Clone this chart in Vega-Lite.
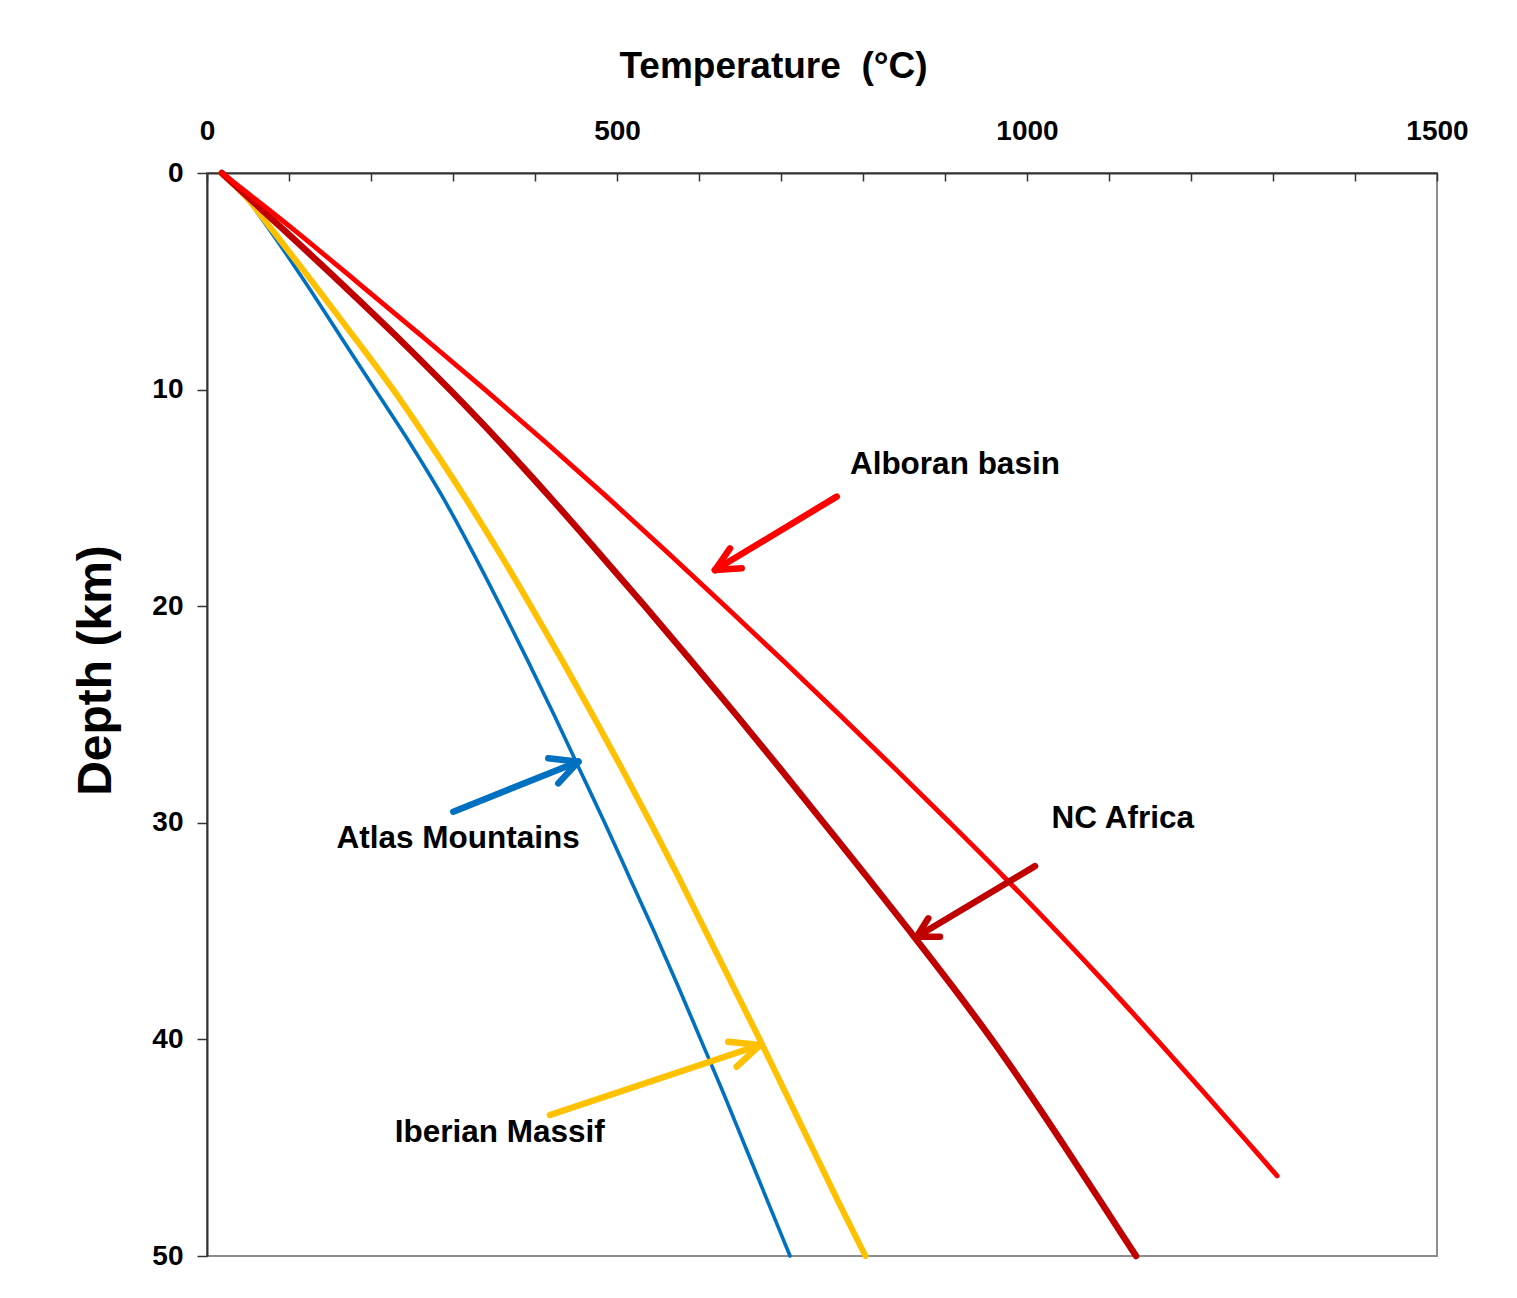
{
  "$schema": "https://vega.github.io/schema/vega-lite/v6.json",
  "width": 1230,
  "height": 1083,
  "autosize": {"type": "none"},
  "padding": {"left": 207, "top": 173, "right": 80, "bottom": 42},
  "background": "white",
  "config": {
    "view": {"stroke": "#8c8c8c", "strokeWidth": 2},
    "font": "Liberation Sans"
  },
  "datasets": {
    "curves": [
      {"series": "Alboran basin", "depth": 0, "T": 18},
      {"series": "Alboran basin", "depth": 2.5, "T": 102},
      {"series": "Alboran basin", "depth": 5, "T": 182},
      {"series": "Alboran basin", "depth": 7.5, "T": 261},
      {"series": "Alboran basin", "depth": 10, "T": 339},
      {"series": "Alboran basin", "depth": 12.5, "T": 415},
      {"series": "Alboran basin", "depth": 15, "T": 489},
      {"series": "Alboran basin", "depth": 17.5, "T": 561},
      {"series": "Alboran basin", "depth": 20, "T": 632},
      {"series": "Alboran basin", "depth": 22.5, "T": 702},
      {"series": "Alboran basin", "depth": 25, "T": 771},
      {"series": "Alboran basin", "depth": 27.5, "T": 839},
      {"series": "Alboran basin", "depth": 30, "T": 906},
      {"series": "Alboran basin", "depth": 32.5, "T": 972},
      {"series": "Alboran basin", "depth": 35, "T": 1036},
      {"series": "Alboran basin", "depth": 37.5, "T": 1098},
      {"series": "Alboran basin", "depth": 40, "T": 1158},
      {"series": "Alboran basin", "depth": 42.5, "T": 1217},
      {"series": "Alboran basin", "depth": 45, "T": 1275},
      {"series": "Alboran basin", "depth": 46.3, "T": 1305},
      {"series": "NC Africa", "depth": 0, "T": 18},
      {"series": "NC Africa", "depth": 2.5, "T": 90},
      {"series": "NC Africa", "depth": 5, "T": 161},
      {"series": "NC Africa", "depth": 7.5, "T": 230},
      {"series": "NC Africa", "depth": 10, "T": 296},
      {"series": "NC Africa", "depth": 12.5, "T": 359},
      {"series": "NC Africa", "depth": 15, "T": 419},
      {"series": "NC Africa", "depth": 17.5, "T": 477},
      {"series": "NC Africa", "depth": 20, "T": 534},
      {"series": "NC Africa", "depth": 22.5, "T": 590},
      {"series": "NC Africa", "depth": 25, "T": 645},
      {"series": "NC Africa", "depth": 27.5, "T": 699},
      {"series": "NC Africa", "depth": 30, "T": 752},
      {"series": "NC Africa", "depth": 32.5, "T": 805},
      {"series": "NC Africa", "depth": 35, "T": 857},
      {"series": "NC Africa", "depth": 37.5, "T": 908},
      {"series": "NC Africa", "depth": 40, "T": 957},
      {"series": "NC Africa", "depth": 42.5, "T": 1003},
      {"series": "NC Africa", "depth": 45, "T": 1047},
      {"series": "NC Africa", "depth": 47.5, "T": 1090},
      {"series": "NC Africa", "depth": 50, "T": 1133},
      {"series": "Iberian Massif", "depth": 0, "T": 18},
      {"series": "Iberian Massif", "depth": 1.25, "T": 51},
      {"series": "Iberian Massif", "depth": 2.5, "T": 77},
      {"series": "Iberian Massif", "depth": 5, "T": 128},
      {"series": "Iberian Massif", "depth": 7.5, "T": 178},
      {"series": "Iberian Massif", "depth": 10, "T": 227},
      {"series": "Iberian Massif", "depth": 12.5, "T": 272},
      {"series": "Iberian Massif", "depth": 15, "T": 315},
      {"series": "Iberian Massif", "depth": 17.5, "T": 356},
      {"series": "Iberian Massif", "depth": 20, "T": 395},
      {"series": "Iberian Massif", "depth": 22.5, "T": 433},
      {"series": "Iberian Massif", "depth": 25, "T": 470},
      {"series": "Iberian Massif", "depth": 27.5, "T": 506},
      {"series": "Iberian Massif", "depth": 30, "T": 541},
      {"series": "Iberian Massif", "depth": 32.5, "T": 575},
      {"series": "Iberian Massif", "depth": 35, "T": 608},
      {"series": "Iberian Massif", "depth": 37.5, "T": 641},
      {"series": "Iberian Massif", "depth": 40, "T": 674},
      {"series": "Iberian Massif", "depth": 42.5, "T": 706},
      {"series": "Iberian Massif", "depth": 45, "T": 738},
      {"series": "Iberian Massif", "depth": 47.5, "T": 770},
      {"series": "Iberian Massif", "depth": 50, "T": 803},
      {"series": "Atlas Mountains", "depth": 0, "T": 18},
      {"series": "Atlas Mountains", "depth": 1.25, "T": 50},
      {"series": "Atlas Mountains", "depth": 2.5, "T": 74},
      {"series": "Atlas Mountains", "depth": 5, "T": 119},
      {"series": "Atlas Mountains", "depth": 7.5, "T": 162},
      {"series": "Atlas Mountains", "depth": 10, "T": 205},
      {"series": "Atlas Mountains", "depth": 12.5, "T": 248},
      {"series": "Atlas Mountains", "depth": 15, "T": 288},
      {"series": "Atlas Mountains", "depth": 17.5, "T": 324},
      {"series": "Atlas Mountains", "depth": 20, "T": 358},
      {"series": "Atlas Mountains", "depth": 22.5, "T": 391},
      {"series": "Atlas Mountains", "depth": 25, "T": 423},
      {"series": "Atlas Mountains", "depth": 27.5, "T": 454},
      {"series": "Atlas Mountains", "depth": 30, "T": 485},
      {"series": "Atlas Mountains", "depth": 32.5, "T": 515},
      {"series": "Atlas Mountains", "depth": 35, "T": 545},
      {"series": "Atlas Mountains", "depth": 37.5, "T": 574},
      {"series": "Atlas Mountains", "depth": 40, "T": 602},
      {"series": "Atlas Mountains", "depth": 42.5, "T": 630},
      {"series": "Atlas Mountains", "depth": 45, "T": 657},
      {"series": "Atlas Mountains", "depth": 47.5, "T": 684},
      {"series": "Atlas Mountains", "depth": 50, "T": 711}
    ],
    "arrows": [
      {"series": "Alboran basin", "T": 768, "depth": 14.94, "T2": 619.5, "depth2": 18.33},
      {"series": "Alboran basin", "T": 619.5, "depth": 18.33, "T2": 637.8, "depth2": 17.33},
      {"series": "Alboran basin", "T": 619.5, "depth": 18.33, "T2": 652.1, "depth2": 18.25},
      {"series": "NC Africa", "T": 1009.8, "depth": 32.0, "T2": 865.5, "depth2": 35.26},
      {"series": "NC Africa", "T": 865.5, "depth": 35.26, "T2": 879.6, "depth2": 34.41},
      {"series": "NC Africa", "T": 865.5, "depth": 35.26, "T2": 893.9, "depth2": 35.26},
      {"series": "Atlas Mountains", "T": 300.4, "depth": 29.49, "T2": 452.8, "depth2": 27.18},
      {"series": "Atlas Mountains", "T": 452.8, "depth": 27.18, "T2": 416.2, "depth2": 27.02},
      {"series": "Atlas Mountains", "T": 452.8, "depth": 27.18, "T2": 428.4, "depth2": 28.18},
      {"series": "Iberian Massif", "T": 418.3, "depth": 43.49, "T2": 674.4, "depth2": 40.26},
      {"series": "Iberian Massif", "T": 674.4, "depth": 40.26, "T2": 635.7, "depth2": 40.11},
      {"series": "Iberian Massif", "T": 674.4, "depth": 40.26, "T2": 646.0, "depth2": 41.26}
    ],
    "labels": [
      {"series": "Alboran basin", "label": "Alboran basin", "T": 784, "depth": 13.48},
      {"series": "NC Africa", "label": "NC Africa", "T": 1030, "depth": 29.83},
      {"series": "Atlas Mountains", "label": "Atlas Mountains", "T": 158, "depth": 30.75},
      {"series": "Iberian Massif", "label": "Iberian Massif", "T": 229, "depth": 44.32}
    ]
  },
  "encoding": {
    "x": {
      "field": "T",
      "type": "quantitative",
      "scale": {"domain": [0, 1500], "nice": false, "zero": false},
      "axis": {
        "orient": "top",
        "title": "Temperature\u00a0 (°C)",
        "values": [0, 100, 200, 300, 400, 500, 600, 700, 800, 900, 1000, 1100, 1200, 1300, 1400, 1500],
        "format": "d",
        "labelExpr": "datum.value % 500 === 0 ? datum.label : ''",
        "labelFlush": false,
        "labelOverlap": false,
        "grid": false,
        "tickSize": -8,
        "tickColor": "#333333",
        "tickWidth": 1.5,
        "domainColor": "#333333",
        "domainWidth": 2,
        "labelFontSize": 28,
        "labelFontWeight": "bold",
        "labelColor": "black",
        "labelPadding": 36,
        "titleFontSize": 37,
        "titleFontWeight": "bold",
        "titleColor": "black",
        "titleX": 566,
        "titleY": -107,
        "titleAlign": "center",
        "titleBaseline": "middle"
      }
    },
    "y": {
      "field": "depth",
      "type": "quantitative",
      "scale": {"domain": [0, 50], "reverse": true, "nice": false, "zero": false},
      "axis": {
        "title": "Depth (km)",
        "values": [0, 10, 20, 30, 40, 50],
        "labelFlush": false,
        "grid": false,
        "tickSize": 10,
        "tickColor": "#333333",
        "tickWidth": 1.5,
        "domainColor": "#333333",
        "domainWidth": 2,
        "labelFontSize": 28,
        "labelFontWeight": "bold",
        "labelColor": "black",
        "labelPadding": 14,
        "titleFontSize": 48,
        "titleFontWeight": "bold",
        "titleColor": "black",
        "titleX": -111,
        "titleY": 497,
        "titleAlign": "center",
        "titleBaseline": "middle"
      }
    },
    "color": {
      "field": "series",
      "type": "nominal",
      "scale": {
        "domain": ["Alboran basin", "NC Africa", "Atlas Mountains", "Iberian Massif"],
        "range": ["#FF0000", "#C00000", "#0070C0", "#FFC000"]
      },
      "legend": null
    }
  },
  "layer": [
    {
      "data": {"name": "curves"},
      "transform": [{"filter": "datum.series === 'Atlas Mountains'"}],
      "mark": {"type": "line", "strokeWidth": 3.6, "interpolate": "monotone", "strokeCap": "round", "strokeJoin": "round"},
      "encoding": {"order": {"field": "depth", "type": "quantitative"}}
    },
    {
      "data": {"name": "curves"},
      "transform": [{"filter": "datum.series === 'Iberian Massif'"}],
      "mark": {"type": "line", "strokeWidth": 6, "interpolate": "monotone", "strokeCap": "round", "strokeJoin": "round"},
      "encoding": {"order": {"field": "depth", "type": "quantitative"}}
    },
    {
      "data": {"name": "curves"},
      "transform": [{"filter": "datum.series === 'NC Africa'"}],
      "mark": {"type": "line", "strokeWidth": 6.5, "interpolate": "monotone", "strokeCap": "round", "strokeJoin": "round"},
      "encoding": {"order": {"field": "depth", "type": "quantitative"}}
    },
    {
      "data": {"name": "curves"},
      "transform": [{"filter": "datum.series === 'Alboran basin'"}],
      "mark": {"type": "line", "strokeWidth": 4.8, "interpolate": "monotone", "strokeCap": "round", "strokeJoin": "round"},
      "encoding": {"order": {"field": "depth", "type": "quantitative"}}
    },
    {
      "data": {"name": "arrows"},
      "mark": {"type": "rule", "strokeWidth": 6.5, "strokeCap": "round"},
      "encoding": {
        "x2": {"field": "T2"},
        "y2": {"field": "depth2"}
      }
    },
    {
      "data": {"name": "labels"},
      "mark": {"type": "text", "align": "left", "baseline": "middle", "fontSize": 31.5, "fontWeight": "bold", "font": "Liberation Sans"},
      "encoding": {
        "text": {"field": "label", "type": "nominal"},
        "color": {"value": "black"}
      }
    }
  ]
}
